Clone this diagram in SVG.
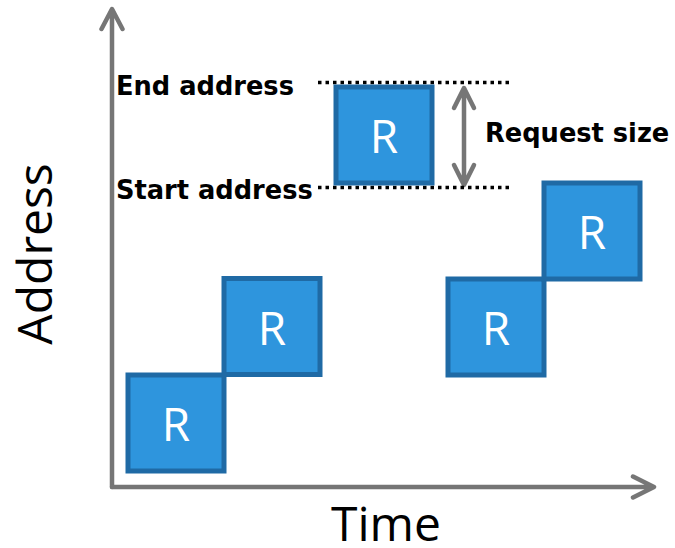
<svg xmlns="http://www.w3.org/2000/svg" width="675" height="548" viewBox="0 0 675 548">
<style>
.box rect{fill:#2E95DD;stroke:#1F6AA5;stroke-width:5;}
.box text{fill:#ffffff;font-family:"Open Sans","Noto Sans",sans-serif;font-size:46px;text-anchor:middle;}
.axis{stroke:#767676;stroke-width:4.5;fill:none;stroke-linecap:round;stroke-linejoin:round;}
.dot{stroke:#000;stroke-width:3.5;stroke-dasharray:3.5 4;fill:none;}
.lbl{font-family:"DejaVu Sans",Verdana,sans-serif;font-weight:bold;font-size:25.7px;fill:#000;}
.big{font-family:"Open Sans","Noto Sans",sans-serif;font-size:48px;fill:#000;}
</style>
<rect width="675" height="548" fill="#ffffff"/>
<g id="connectors">
<path class="axis" d="M112,487 V10 M101.5,29 L112,9 L122.5,29"/>
<path class="axis" d="M112,487 H653 M633,476.5 L654,487 L633,497.5"/>
<path class="axis" d="M464,90 V183 M454,108 L464,88 L474,108 M454,165 L464,185 L474,165"/>
<line class="dot" x1="318" y1="82.5" x2="511" y2="82.5"/>
<line class="dot" x1="318" y1="187.5" x2="511" y2="187.5"/>
</g>
<g id="box1" class="box"><rect x="128" y="375" width="96" height="96"/><text x="176" y="441">R</text></g>
<g id="box2" class="box"><rect x="224" y="278.5" width="96" height="96"/><text x="272" y="345">R</text></g>
<g id="box3" class="box"><rect x="336" y="87" width="96" height="96"/><text x="384" y="153">R</text></g>
<g id="box4" class="box"><rect x="448" y="279" width="96" height="96"/><text x="496" y="345">R</text></g>
<g id="box5" class="box"><rect x="544" y="183" width="96" height="96"/><text x="592" y="249">R</text></g>
<g id="labels">
<text class="lbl" x="116" y="95">End address</text>
<text class="lbl" x="116" y="199">Start address</text>
<text class="lbl" x="485" y="142">Request size</text>
<text class="big" transform="translate(52,254) rotate(-90)" text-anchor="middle">Address</text>
<text class="big" x="386" y="541" text-anchor="middle">Time</text>
</g>
</svg>
